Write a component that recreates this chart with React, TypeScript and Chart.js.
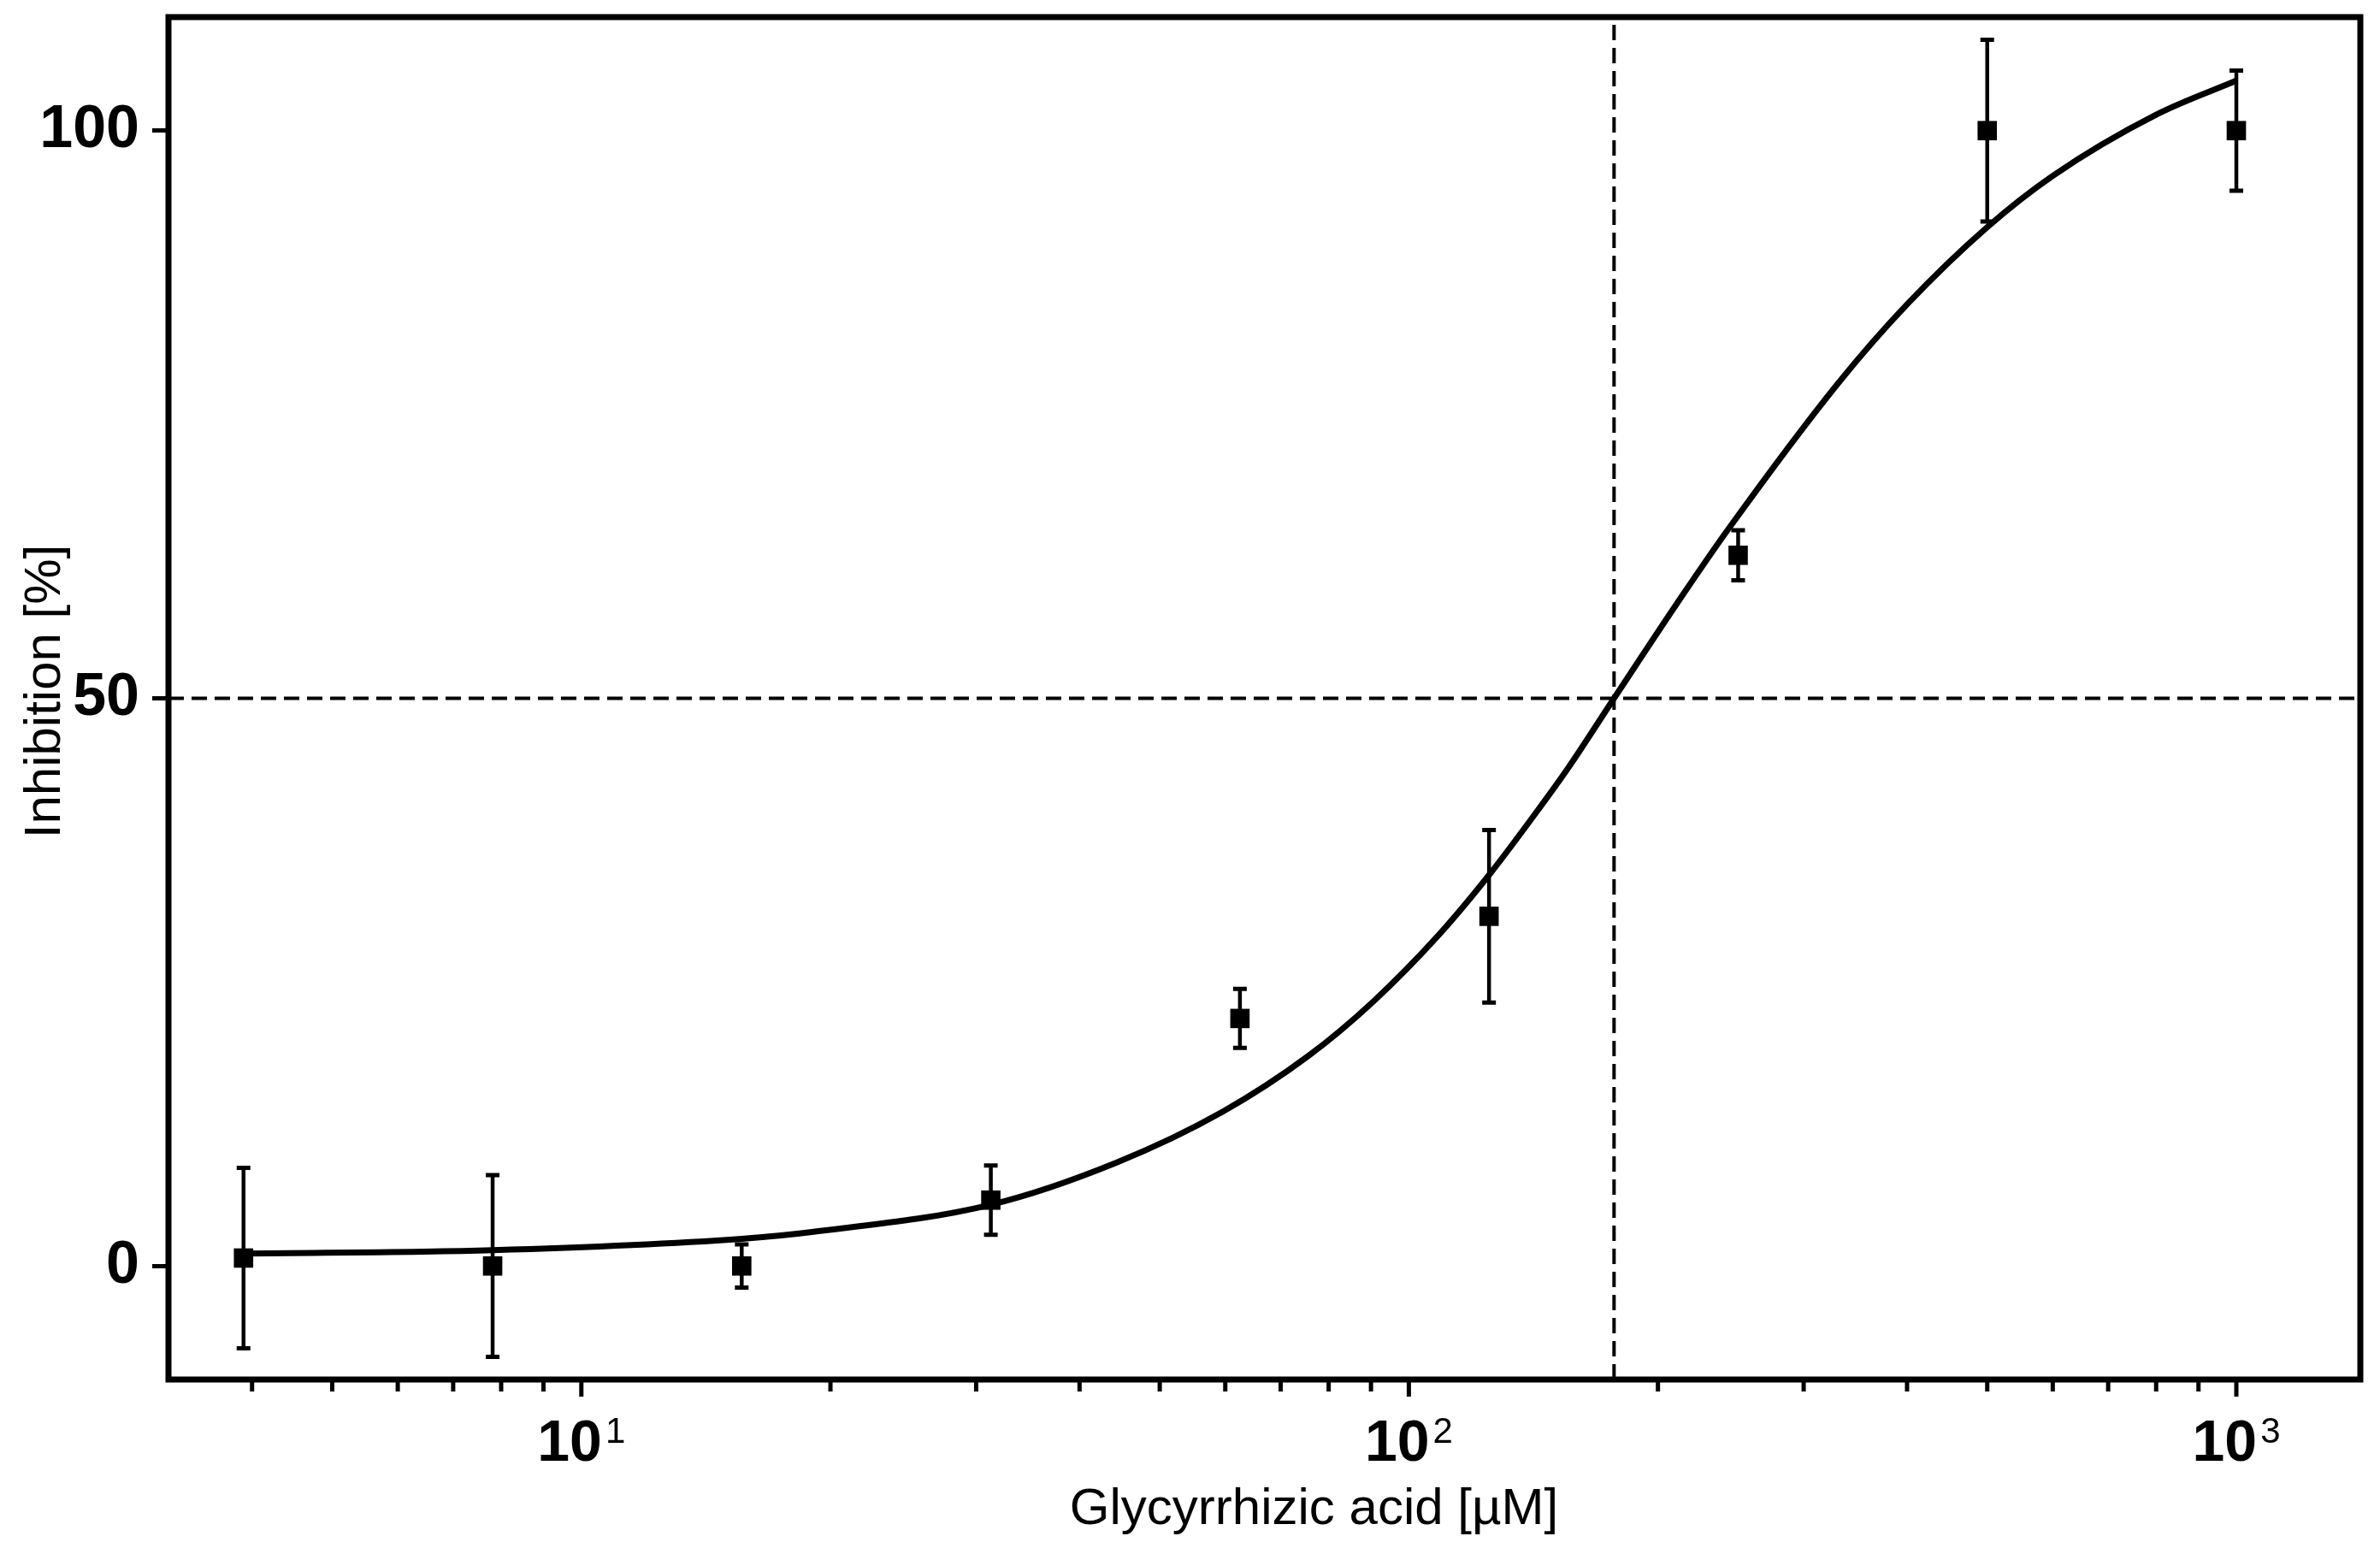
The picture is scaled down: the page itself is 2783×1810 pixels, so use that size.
import React, { useEffect, useRef } from 'react';
import { Chart, registerables } from 'chart.js';

Chart.register(...registerables);

// Measured data (Glycyrrhizic acid concentration in µM, inhibition in %)
const concentrations = [3.90625, 7.8125, 15.625, 31.25, 62.5, 125, 250, 500, 1000];
const inhibitionMean = [0.7, 0, 0, 5.8, 21.8, 30.8, 62.6, 100, 100];
const inhibitionSD = [7.95, 8.0, 1.9, 3.05, 2.6, 7.6, 2.2, 8.0, 5.3];

// Fitted dose-response curve
const fitX = [3.90625, 7.8125, 15.625, 19, 31.25, 44.3, 59.6, 75.6, 90.6, 108.8, 125.2, 142.7, 155.9, 177, 213.8, 242.7, 330.6, 400, 500, 599.5, 800, 1000];
const fitY = [1.1, 1.4, 2.4, 3.0, 5.4, 9.1, 13.6, 18.5, 23.3, 29.2, 34.5, 40.0, 43.9, 50.0, 59.0, 64.8, 77.8, 84.7, 91.5, 96.0, 101.4, 104.4];

// IC50 reference lines
const ic50 = 177;
const halfInhibition = 50;

// Axes
const xAxisMin = 3.17;
const xAxisMax = 1412;
const yAxisMin = -10;
const yAxisMax = 110;
const yTickValues = [0, 50, 100];
const xMajorValues = [10, 100, 1000];
const xMajorBase = ['10', '10', '10'];
const xMajorExponent = ['1', '2', '3'];
const xMinorValues = [4, 5, 6, 7, 8, 9, 20, 30, 40, 50, 60, 70, 80, 90, 200, 300, 400, 500, 600, 700, 800, 900];
const xTitle = 'Glycyrrhizic acid [\u00B5M]';
const yTitle = 'Inhibition [%]';

const FONT = '"Liberation Sans", Arial, Helvetica, sans-serif';

const decorPlugin = {
  id: 'decor',
  beforeDatasetsDraw(chart: any) {
    const { ctx, scales } = chart;
    const x = scales.x;
    const y = scales.y;
    ctx.save();
    ctx.strokeStyle = '#000';
    concentrations.forEach((c, i) => {
      const px = x.getPixelForValue(c);
      const top = y.getPixelForValue(inhibitionMean[i] + inhibitionSD[i]);
      const bot = y.getPixelForValue(inhibitionMean[i] - inhibitionSD[i]);
      ctx.lineWidth = 4.5;
      ctx.beginPath();
      ctx.moveTo(px, top);
      ctx.lineTo(px, bot);
      ctx.stroke();
      ctx.lineWidth = 5;
      ctx.beginPath();
      ctx.moveTo(px - 8, top);
      ctx.lineTo(px + 8, top);
      ctx.moveTo(px - 8, bot);
      ctx.lineTo(px + 8, bot);
      ctx.stroke();
    });
    ctx.restore();
  },
  afterDraw(chart: any) {
    const { ctx, chartArea: a, scales } = chart;
    const x = scales.x;
    ctx.save();
    ctx.strokeStyle = '#000';
    ctx.fillStyle = '#000';
    ctx.lineWidth = 7;
    ctx.strokeRect(a.left, a.top, a.right - a.left, a.bottom - a.top);
    ctx.lineWidth = 5;
    const drawTick = (v: number, len: number) => {
      const px = x.getPixelForValue(v);
      ctx.beginPath();
      ctx.moveTo(px, a.bottom);
      ctx.lineTo(px, a.bottom + len);
      ctx.stroke();
    };
    xMajorValues.forEach((v) => drawTick(v, 20));
    xMinorValues.forEach((v) => drawTick(v, 14));

    // x tick labels with superscript exponents
    ctx.textBaseline = 'alphabetic';
    ctx.textAlign = 'left';
    xMajorValues.forEach((v, i) => {
      const px = x.getPixelForValue(v);
      const baseFont = `bold 68px ${FONT}`;
      const expFont = `42px ${FONT}`;
      ctx.font = baseFont;
      const wBase = ctx.measureText(xMajorBase[i]).width;
      ctx.font = expFont;
      const wExp = ctx.measureText(xMajorExponent[i]).width;
      const gap = 4;
      const start = px - (wBase + gap + wExp) / 2;
      ctx.font = baseFont;
      ctx.fillText(xMajorBase[i], start, a.bottom + 95);
      ctx.font = expFont;
      ctx.fillText(xMajorExponent[i], start + wBase + gap, a.bottom + 74);
    });

    // axis titles
    ctx.font = `60px ${FONT}`;
    ctx.textAlign = 'center';
    ctx.fillText(xTitle, (a.left + a.right) / 2 + 58, a.bottom + 169);

    ctx.translate(a.left - 127, (a.top + a.bottom) / 2 - 8);
    ctx.rotate(-Math.PI / 2);
    ctx.fillText(yTitle, 0, 0);
    ctx.restore();
  },
};

export default function App() {
  const canvasRef = useRef<HTMLCanvasElement | null>(null);

  useEffect(() => {
    if (!canvasRef.current) return;
    const chart = new Chart(canvasRef.current, {
      type: 'line',
      data: {
        datasets: [
          {
            label: 'Fit',
            data: fitX.map((xv, i) => ({ x: xv, y: fitY[i] })),
            borderColor: '#000',
            borderWidth: 7,
            pointRadius: 0,
            cubicInterpolationMode: 'monotone',
            fill: false,
          } as any,
          {
            type: 'scatter',
            label: 'Inhibition',
            data: concentrations.map((c, i) => ({ x: c, y: inhibitionMean[i] })),
            showLine: false,
            pointStyle: 'rect',
            pointRadius: 16,
            pointBackgroundColor: '#000',
            pointBorderColor: '#000',
            pointBorderWidth: 0,
          } as any,
          {
            label: '50%',
            data: [
              { x: xAxisMin, y: halfInhibition },
              { x: xAxisMax, y: halfInhibition },
            ],
            borderColor: '#000',
            borderWidth: 4,
            borderDash: [18, 9],
            pointRadius: 0,
            fill: false,
          },
          {
            label: 'IC50',
            data: [
              { x: ic50, y: yAxisMin },
              { x: ic50, y: yAxisMax },
            ],
            borderColor: '#000',
            borderWidth: 4,
            borderDash: [18, 9],
            pointRadius: 0,
            fill: false,
          },
        ],
      },
      options: {
        responsive: false,
        animation: false,
        events: [],
        layout: { padding: { top: 20, right: 23, left: 0, bottom: 0 } },
        plugins: {
          legend: { display: false },
          tooltip: { enabled: false },
          title: { display: false },
        },
        scales: {
          x: {
            type: 'logarithmic',
            position: 'bottom',
            min: xAxisMin,
            max: xAxisMax,
            grid: { display: false, drawTicks: false },
            border: { display: false },
            afterBuildTicks: (s: any) => {
              s.ticks = [...xMinorValues, ...xMajorValues]
                .sort((p, q) => p - q)
                .map((v) => ({ value: v }));
            },
            afterFit: (s: any) => {
              s.height = 197;
              s.paddingLeft = 0;
              s.paddingRight = 0;
            },
            ticks: { display: false, autoSkip: false, maxRotation: 0, minRotation: 0 },
          },
          y: {
            type: 'linear',
            position: 'left',
            min: yAxisMin,
            max: yAxisMax,
            grid: {
              display: true,
              drawOnChartArea: false,
              drawTicks: true,
              tickLength: 19,
              tickWidth: 5,
              tickColor: '#000',
            },
            border: { display: false },
            afterBuildTicks: (s: any) => {
              s.ticks = yTickValues.map((v) => ({ value: v }));
            },
            afterFit: (s: any) => {
              s.width = 197;
              s.paddingTop = 0;
              s.paddingBottom = 0;
            },
            ticks: {
              padding: 15,
              color: '#000',
              font: { family: FONT, size: 70, weight: 'bold' },
              callback: (v: any) => String(v),
            },
          },
        },
      } as any,
      plugins: [decorPlugin],
    });
    return () => chart.destroy();
  }, []);

  return (
    <div
      style={{
        position: 'absolute',
        left: 0,
        top: 0,
        width: 2783,
        height: 1810,
        background: '#fff',
      }}
    >
      <canvas ref={canvasRef} width={2783} height={1810} style={{ display: 'block' }} />
    </div>
  );
}
